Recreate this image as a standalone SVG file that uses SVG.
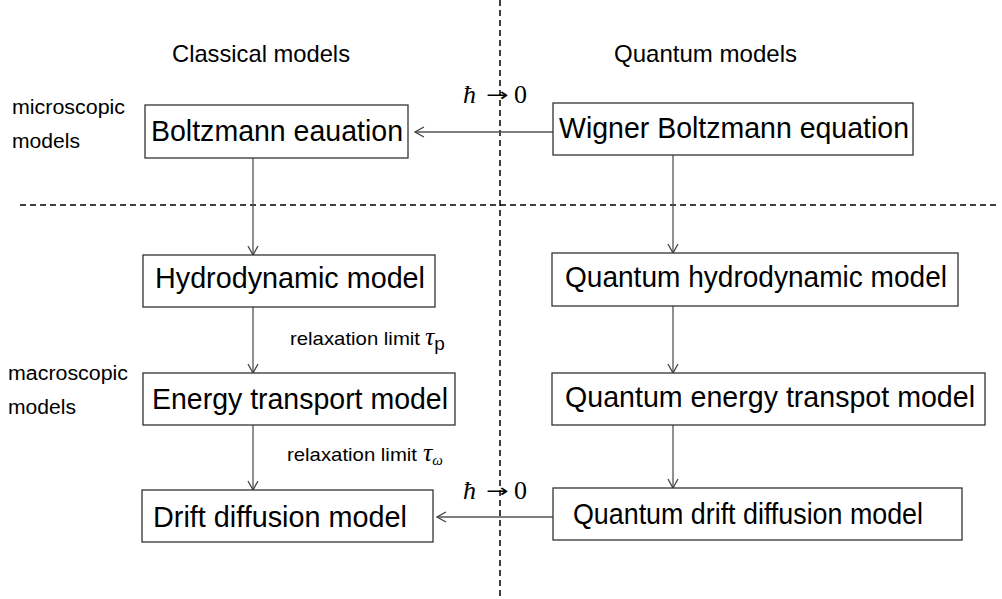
<svg xmlns="http://www.w3.org/2000/svg" width="1002" height="599" viewBox="0 0 1002 599">
<style>
.box{fill:#fff;stroke:#333;stroke-width:1.3}
.bt{font-family:"Liberation Sans",Arial,sans-serif;font-size:30px;fill:#000}
.lb{font-family:"Liberation Sans",Arial,sans-serif;font-size:24px;fill:#000}
.sm{font-family:"Liberation Sans",Arial,sans-serif;font-size:20px;fill:#000}
.rl{font-family:"Liberation Sans",Arial,sans-serif;font-size:19px;fill:#000}
.mt{font-family:"Liberation Serif","Times New Roman",serif;font-size:26px;fill:#000}
.ar{font-family:"DejaVu Sans",sans-serif;font-size:18px;fill:#000}
.con{stroke:#555;stroke-width:1.3;fill:none}
.dash{stroke:#000;stroke-width:1.5;stroke-dasharray:6,4;fill:none}
</style>
<defs>
<marker id="ah" viewBox="0 0 12 12" refX="11" refY="6" markerWidth="12" markerHeight="12" markerUnits="userSpaceOnUse" orient="auto">
<path d="M2,1 L11,6 L2,11" fill="none" stroke="#444" stroke-width="1.3"/>
</marker>
</defs>
<rect width="1002" height="599" fill="#fff"/>
<g id="dividers">
<line class="dash" x1="500" y1="0" x2="500" y2="599"/>
<line class="dash" x1="20" y1="205" x2="1000" y2="205"/>
</g>
<g id="labels">
<text class="lb" x="172" y="62" textLength="178" lengthAdjust="spacingAndGlyphs">Classical models</text>
<text class="lb" x="614" y="62" textLength="183" lengthAdjust="spacingAndGlyphs">Quantum models</text>
<text class="sm" x="12" y="114" textLength="113" lengthAdjust="spacingAndGlyphs">microscopic</text>
<text class="sm" x="12" y="148" textLength="68" lengthAdjust="spacingAndGlyphs">models</text>
<text class="sm" x="8" y="380" textLength="120" lengthAdjust="spacingAndGlyphs">macroscopic</text>
<text class="sm" x="8" y="414" textLength="68" lengthAdjust="spacingAndGlyphs">models</text>
<text class="rl" x="290" y="345" textLength="130" lengthAdjust="spacingAndGlyphs">relaxation limit</text>
<text class="mt" x="425" y="345" font-style="italic" font-size="23">τ<tspan class="rl" font-style="normal" font-size="14" dy="5">p</tspan></text>
<text class="rl" x="287" y="461" textLength="130" lengthAdjust="spacingAndGlyphs">relaxation limit</text>
<text class="mt" x="423" y="461" font-style="italic" font-size="23">τ<tspan font-size="15" dy="4">ω</tspan></text>
<text class="mt" x="463" y="103" font-style="italic">ħ</text>
<text class="ar" transform="translate(486,101) scale(1.5,1)">→</text>
<text class="mt" x="514" y="103">0</text>
<text class="mt" x="463" y="499" font-style="italic">ħ</text>
<text class="ar" transform="translate(486,497) scale(1.5,1)">→</text>
<text class="mt" x="514" y="499">0</text>
</g>
<g id="connectors">
<line class="con" x1="553" y1="132" x2="415" y2="132" marker-end="url(#ah)"/>
<line class="con" x1="553" y1="517" x2="437" y2="517" marker-end="url(#ah)"/>
<line class="con" x1="253" y1="158" x2="253" y2="255" marker-end="url(#ah)"/>
<line class="con" x1="253" y1="307" x2="253" y2="373" marker-end="url(#ah)"/>
<line class="con" x1="253" y1="425" x2="253" y2="490" marker-end="url(#ah)"/>
<line class="con" x1="673" y1="155" x2="673" y2="253" marker-end="url(#ah)"/>
<line class="con" x1="673" y1="306" x2="673" y2="373" marker-end="url(#ah)"/>
<line class="con" x1="673" y1="425" x2="673" y2="488" marker-end="url(#ah)"/>
</g>
<g id="boltzmann">
<rect class="box" x="145" y="105" width="263" height="53"/>
<text class="bt" x="151" y="141" textLength="252" lengthAdjust="spacingAndGlyphs">Boltzmann eauation</text>
</g>
<g id="wigner">
<rect class="box" x="553" y="103" width="360" height="52"/>
<text class="bt" x="559" y="138" textLength="350" lengthAdjust="spacingAndGlyphs">Wigner Boltzmann equation</text>
</g>
<g id="hydro">
<rect class="box" x="143" y="255" width="292" height="52"/>
<text class="bt" x="155" y="288" textLength="270" lengthAdjust="spacingAndGlyphs">Hydrodynamic model</text>
</g>
<g id="qhydro">
<rect class="box" x="552" y="253" width="406" height="53"/>
<text class="bt" x="565" y="287" textLength="382" lengthAdjust="spacingAndGlyphs">Quantum hydrodynamic model</text>
</g>
<g id="energy">
<rect class="box" x="143" y="373" width="312" height="52"/>
<text class="bt" x="152" y="409" textLength="296" lengthAdjust="spacingAndGlyphs">Energy transport model</text>
</g>
<g id="qenergy">
<rect class="box" x="552" y="373" width="433" height="52"/>
<text class="bt" x="565" y="407" textLength="410" lengthAdjust="spacingAndGlyphs">Quantum energy transpot model</text>
</g>
<g id="drift">
<rect class="box" x="142" y="490" width="291" height="52"/>
<text class="bt" x="153" y="527" textLength="254" lengthAdjust="spacingAndGlyphs">Drift diffusion model</text>
</g>
<g id="qdrift">
<rect class="box" x="553" y="488" width="409" height="52"/>
<text class="bt" x="573" y="524" textLength="350" lengthAdjust="spacingAndGlyphs">Quantum drift diffusion model</text>
</g>
</svg>
